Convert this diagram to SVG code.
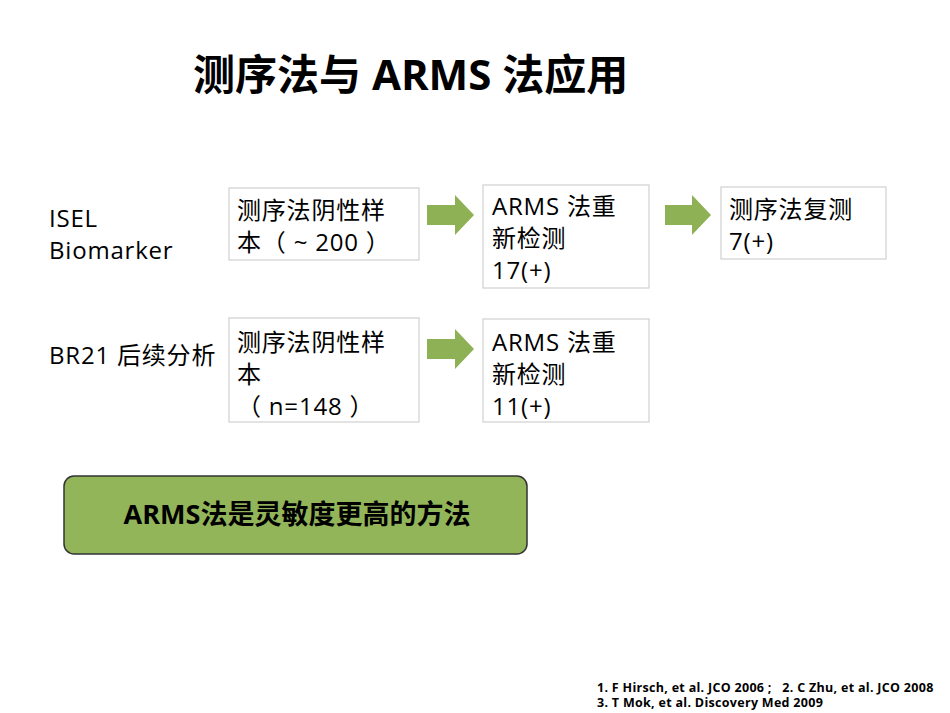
<svg xmlns="http://www.w3.org/2000/svg" width="950" height="713" viewBox="0 0 950 713">
<style>
text{font-family:"Open Sans","Noto Sans CJK SC",sans-serif;fill:#000}
.t{font-size:24px;letter-spacing:0.8px}
.box{fill:#fff;stroke:#d0d0d0;stroke-width:1.2}
.arr{fill:#8fb155}
</style>
<rect width="950" height="713" fill="#fff"/>
<text x="193" y="90" font-size="42" font-weight="bold">测序法与 ARMS 法应用</text>
<g id="labels">
<text class="t" x="49" y="227">ISEL</text>
<text class="t" x="49" y="259">Biomarker</text>
<text class="t" x="49" y="364">BR21 后续分析</text>
</g>
<g id="n1"><rect class="box" x="229" y="188" width="190" height="72"/>
<text class="t" x="237" y="219">测序法阴性样</text><text class="t" x="237" y="251" xml:space="preserve">本（ ~ 200 ）</text></g>
<g id="n2"><rect class="box" x="483" y="185" width="166" height="103"/>
<text class="t" x="492" y="215">ARMS 法重</text><text class="t" x="492" y="247">新检测</text><text class="t" x="492" y="279">17(+)</text></g>
<g id="n3"><rect class="box" x="721" y="187" width="165" height="72"/>
<text class="t" x="729" y="218">测序法复测</text><text class="t" x="729" y="250">7(+)</text></g>
<g id="n4"><rect class="box" x="229" y="318" width="190" height="104"/>
<text class="t" x="237" y="351">测序法阴性样</text><text class="t" x="237" y="383">本</text><text class="t" x="237" y="415" xml:space="preserve">（ n=148 ）</text></g>
<g id="n5"><rect class="box" x="483" y="319" width="166" height="103"/>
<text class="t" x="492" y="351">ARMS 法重</text><text class="t" x="492" y="383">新检测</text><text class="t" x="492" y="415">11(+)</text></g>
<g id="connectors">
<polygon class="arr" points="427,205 455,205 455,195 474,215 455,235 455,225 427,225"/>
<polygon class="arr" points="665,205 692,205 692,195 711,215 692,235 692,225 665,225"/>
<polygon class="arr" points="427,339 455,339 455,329 474,349 455,369 455,359 427,359"/>
</g>
<g id="summary"><rect x="64" y="476" width="463" height="78" rx="10" fill="#93b55a" stroke="#333" stroke-width="1.5"/>
<text x="297" y="524" font-size="27" font-weight="bold" text-anchor="middle">ARMS法是灵敏度更高的方法</text></g>
<text x="597" y="692" font-size="12.5" font-weight="bold" letter-spacing="0.3" xml:space="preserve">1. F Hirsch, et al. JCO 2006 ;   2. C Zhu, et al. JCO 2008</text>
<text x="597" y="707" font-size="12.5" font-weight="bold" letter-spacing="0.3">3. T Mok, et al. Discovery Med 2009</text>
</svg>
